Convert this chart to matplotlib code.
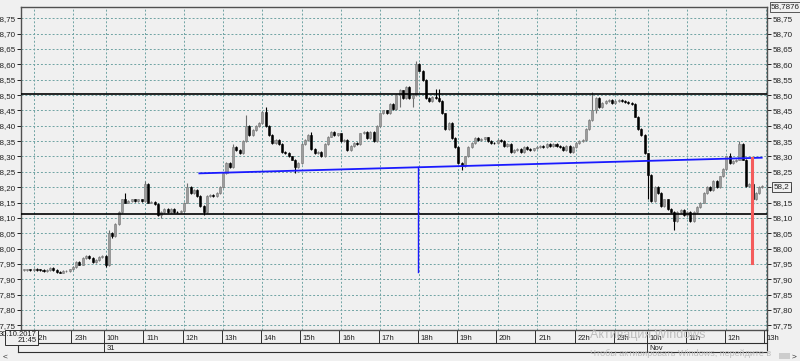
import numpy as np
import matplotlib
matplotlib.use("Agg")
import matplotlib.pyplot as plt
from matplotlib.lines import Line2D
from matplotlib.patches import Rectangle
from matplotlib.transforms import blended_transform_factory

# 5-minute closes, 30.10.2017 21:45 -> 01.11 12:55 (trading gaps removed)
closes_day1 = [57.930, 57.932, 57.930, 57.933, 57.931, 57.930, 57.928, 57.930, 57.938, 57.930,
               57.925, 57.922, 57.926, 57.928, 57.932, 57.940, 57.955, 57.948, 57.970, 57.975,
               57.968, 57.955, 57.962, 57.972, 57.975]
closes_day2 = [57.945, 58.050, 58.040, 58.080, 58.120, 58.160, 58.150, 58.155, 58.160, 58.155,
               58.160, 58.155, 58.210, 58.150, 58.152, 58.145, 58.110, 58.120, 58.130, 58.120,
               58.130, 58.120, 58.118, 58.122, 58.150, 58.200, 58.180, 58.190, 58.170, 58.140,
               58.120, 58.170, 58.175, 58.170, 58.180, 58.200, 58.245, 58.280, 58.265, 58.330,
               58.320, 58.310, 58.350, 58.400, 58.370, 58.385, 58.400, 58.410, 58.445, 58.400,
               58.370, 58.345, 58.355, 58.340, 58.315, 58.310, 58.300, 58.290, 58.265, 58.280,
               58.340, 58.355, 58.370, 58.325, 58.310, 58.315, 58.300, 58.340, 58.365, 58.380,
               58.370, 58.375, 58.350, 58.355, 58.320, 58.335, 58.345, 58.340, 58.375, 58.380,
               58.360, 58.380, 58.350, 58.400, 58.440, 58.450, 58.440, 58.470, 58.455, 58.500,
               58.515, 58.490, 58.525, 58.490, 58.500, 58.600, 58.580, 58.550, 58.490, 58.480,
               58.495, 58.490, 58.480, 58.440, 58.390, 58.410, 58.360, 58.330, 58.280, 58.270,
               58.300, 58.330, 58.345, 58.360, 58.355, 58.358, 58.362, 58.350, 58.345, 58.343,
               58.355, 58.350, 58.335, 58.340, 58.315, 58.320, 58.325, 58.315, 58.330, 58.325,
               58.322, 58.326, 58.330, 58.335, 58.330, 58.340, 58.335, 58.340, 58.335, 58.330,
               58.320, 58.335, 58.315, 58.330, 58.345, 58.350, 58.355, 58.390, 58.420, 58.450,
               58.490, 58.460, 58.475, 58.480, 58.485, 58.475, 58.480, 58.485, 58.480, 58.478,
               58.475, 58.470, 58.430, 58.390, 58.370, 58.310]
closes_day3 = [58.240, 58.155, 58.200, 58.180, 58.140, 58.160, 58.130, 58.120, 58.090, 58.120,
               58.125, 58.110, 58.120, 58.090, 58.120, 58.135, 58.150, 58.180, 58.200, 58.190,
               58.220, 58.200, 58.235, 58.260, 58.300, 58.280, 58.285, 58.290, 58.340, 58.290,
               58.205, 58.210, 58.160, 58.180, 58.200, 58.205]
first_open = 57.930

# wick tips (bar index -> price)
high_tips = {26: 58.06, 31: 58.18, 37: 58.22, 50: 58.215, 64: 58.34, 68: 58.435, 74: 58.46,
             88: 58.38, 115: 58.52, 117: 58.53, 120: 58.612, 126: 58.52, 127: 58.52,
             174: 58.51, 191: 58.31, 216: 58.31, 219: 58.35}
low_tips = {25: 57.94, 27: 58.035, 42: 58.10, 55: 58.11, 83: 58.245, 115: 58.46, 119: 58.46,
            134: 58.255, 175: 58.44, 191: 58.16, 199: 58.06, 204: 58.085, 223: 58.145}

hour_labels = ['22h', '23h', '10h', '11h', '12h', '13h', '14h', '15h', '16h', '17h', '18h',
               '19h', '20h', '21h', '22h', '23h', '10h', '11h', '12h', '13h']
hour_bars = [3, 15, 25, 37, 49, 61, 73, 85, 97, 109, 121, 133, 145, 157, 169, 181,
             191, 203, 215, 227]
date_labels = ['31', 'Nov']
date_bars = [25, 191]

resistance = 58.5024
support = 58.1135
trend_bars = [53.7, 225.8]
trend_vals = [58.245, 58.296]
target_blue = (120.7, 58.265, 57.923)
target_red = (222.8, 58.296, 57.953)

closes = np.array(closes_day1 + closes_day2 + closes_day3)
opens = np.concatenate([[first_open], closes[:-1]])
highs = np.maximum(opens, closes) + 0.003
lows = np.minimum(opens, closes) - 0.003
for k, v in high_tips.items():
    highs[k] = v
for k, v in low_tips.items():
    lows[k] = v
idx = np.arange(len(closes))

W, H = 800, 361
BG = '#f0f0f0'

def fy(py):
    return 1 - py / H

def fx(px):
    return px / W

plt.rcParams['font.family'] = ['Liberation Sans', 'DejaVu Sans']
fig = plt.figure(figsize=(8, 3.61), dpi=100, facecolor=BG)
ax = fig.add_axes([fx(21), fy(330), fx(767) - fx(21), fy(6.8) - fy(330)])
ax.set_facecolor(BG)
ax.set_xlim(-0.888, 227.42)
ax.set_ylim(57.7347, 58.7876)

yt = np.round(np.arange(57.75, 58.751, 0.05), 2)
ax.set_yticks(yt)
ax.set_yticklabels([f'{v:.2f}'.replace('.', ',') for v in yt])
ax.set_xticks(hour_bars)
ax.tick_params(axis='x', length=0, labelbottom=False)
ax.tick_params(axis='y', left=True, right=True, labelleft=True, labelright=True,
               length=3, width=0.7, pad=1, labelsize=5.8, colors='#202020')
ax.grid(True, color='#6fa3a3', linestyle=(0, (2, 2)), linewidth=0.7)
for s in ax.spines.values():
    s.set_color('#505050')
    s.set_linewidth(1.0)

# candles
up = closes >= opens
dn = ~up
ax.vlines(idx[up], lows[up], highs[up], color='#6e6e6e', lw=0.8, zorder=3)
ax.vlines(idx[dn], lows[dn], highs[dn], color='#000000', lw=0.8, zorder=3)
body_lo = np.minimum(opens, closes)
body_h = np.maximum(np.abs(closes - opens), 0.002)
ax.bar(idx[up], body_h[up], bottom=body_lo[up], width=0.62, color='#9c9c9c',
       edgecolor='#777777', linewidth=0.4, zorder=4)
ax.bar(idx[dn], body_h[dn], bottom=body_lo[dn], width=0.62, color='#000000',
       edgecolor='#000000', linewidth=0.4, zorder=4)

# levels
ax.axhline(resistance, color='black', lw=1.2, zorder=5)
ax.axhline(support, color='black', lw=1.2, zorder=5)
ax.plot(trend_bars, trend_vals, color='#1a1aff', lw=1.3, zorder=6)
ax.plot([target_blue[0]] * 2, target_blue[1:], color='#1a1aff', lw=1.0, zorder=6)
ax.plot([target_red[0]] * 2, target_red[1:], color='#f45c5c', lw=2.2, zorder=6)

txt = dict(fontsize=5.8, color='#202020')
fig.text(fx(771), fy(7), '58,7876', va='center', ha='left', **txt,
         bbox=dict(boxstyle='square,pad=0.15', fc=BG, ec='#404040', lw=0.6))
fig.text(fx(774), fy(187), '58,2', va='center', ha='left', **txt,
         bbox=dict(boxstyle='square,pad=0.2', fc=BG, ec='#303030', lw=0.6))

# time axis rows
tr = blended_transform_factory(ax.transData, fig.transFigure)
for b, lab in zip(hour_bars, hour_labels):
    fig.add_artist(Line2D([b - 0.45, b - 0.45], [fy(331), fy(343)], transform=tr,
                          color='#303030', lw=0.7))
    fig.text(b + 0.4, fy(338), lab, transform=tr, fontsize=5.5, va='center', ha='left',
             color='#202020')
for b, lab in zip(date_bars, date_labels):
    fig.add_artist(Line2D([b - 0.45, b - 0.45], [fy(343), fy(352)], transform=tr,
                          color='#303030', lw=0.7))
    fig.text(b + 0.4, fy(348), lab, transform=tr, fontsize=5.5, va='center', ha='left',
             color='#202020')
for py in (343, 352):
    fig.add_artist(Line2D([fx(18), fx(767)], [fy(py), fy(py)], transform=fig.transFigure,
                          color='#303030', lw=0.8))
fig.add_artist(Line2D([fx(18), fx(18)], [fy(343), fy(352)], transform=fig.transFigure,
                      color='#303030', lw=0.8))
fig.add_artist(Line2D([fx(767), fx(767)], [fy(330), fy(352)], transform=fig.transFigure,
                      color='#303030', lw=0.8))

# start date box
fig.add_artist(Rectangle((fx(5), fy(345)), fx(33), fy(330) - fy(345), transform=fig.transFigure,
                         fc=BG, ec='#303030', lw=0.7, zorder=5))
fig.text(fx(37), fy(334), '30.10.2017', ha='right', va='center', fontsize=5.5,
         color='#202020', zorder=6)
fig.text(fx(37), fy(341), '21:45', ha='right', va='center', fontsize=5.5,
         color='#202020', zorder=6)

# scroll bar
fig.text(fx(3), fy(357), '<', fontsize=6, va='center', ha='left', color='#303030')
fig.text(fx(797), fy(357), '>', fontsize=6, va='center', ha='right', color='#303030')
fig.add_artist(Rectangle((fx(779), fy(359)), fx(11), fy(353) - fy(359),
                         transform=fig.transFigure, fc='#cdcdcd', ec='none'))

# windows watermark
fig.text(fx(590), fy(335), 'Активация Windows', fontsize=9, color='#bdbdbd',
         va='center', ha='left', zorder=7)
fig.text(fx(590), fy(353), 'Чтобы активировать Windows, перейдите в', fontsize=6.5,
         color='#bdbdbd', va='center', ha='left', zorder=7)

fig.savefig('out.png', dpi=100, facecolor=BG)
